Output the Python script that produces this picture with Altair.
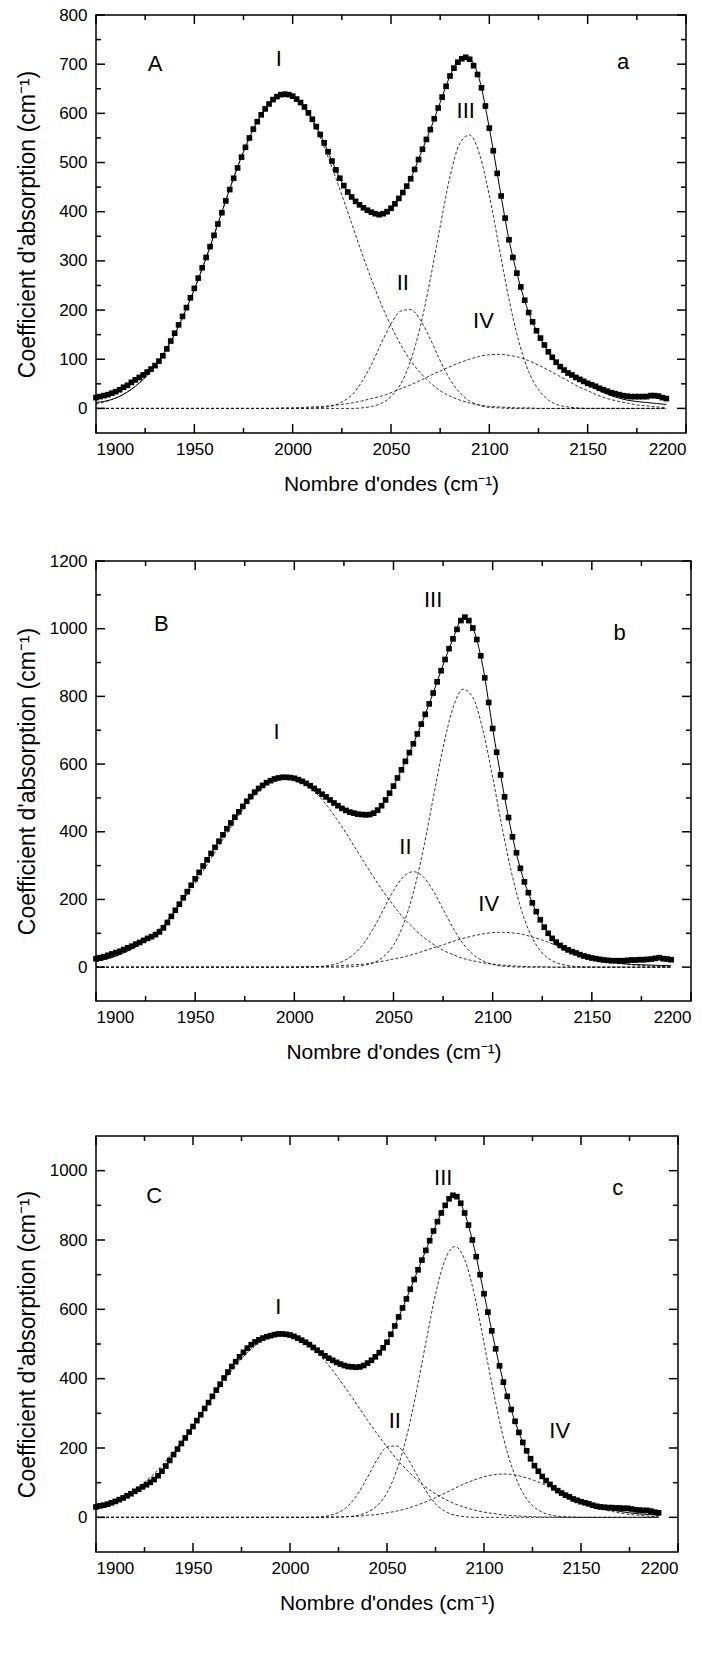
import altair as alt
import pandas as pd

FONT = "Liberation Sans"

# ---- x grids (cm-1) ----
POINT_WN = list(range(1900, 2191, 2))   # measured points, every 2 cm-1
CURVE_WN = list(range(1900, 2191, 5))   # fitted curves, every 5 cm-1

X_LABELS = [1900, 1950, 2000, 2050, 2100, 2150, 2200]
X_MINOR = [1925, 1975, 2025, 2075, 2125, 2175]

X_TITLE = "Nombre d'ondes (cm\u207b\u00b9)"
Y_TITLE = "Coefficient d'absorption (cm\u207b\u00b9)"

# ================= Panel A =================
A_POINTS = [
    22, 24, 26, 28, 31, 34, 38, 43, 47, 53,
    58, 63, 68, 74, 80, 87, 96, 107, 121, 137,
    153, 170, 187, 205, 225, 244, 265, 286, 307, 329,
    352, 375, 398, 422, 445, 468, 489, 511, 531, 550,
    568, 583, 597, 609, 619, 628, 634, 638, 639, 638,
    635, 629, 622, 613, 601, 588, 573, 557, 540, 522,
    503, 485, 468, 453, 440, 430, 421, 414, 408, 403,
    399, 396, 394, 396, 400, 407, 416, 427, 439, 452,
    467, 486, 506, 527, 547, 567, 589, 611, 633, 655,
    676, 692, 704, 711, 714, 710, 697, 679, 652, 615,
    570, 524, 478, 432, 387, 343, 307, 275, 247, 220,
    195, 176, 158, 143, 129, 115, 104, 94, 85, 78,
    72, 68, 63, 59, 55, 51, 48, 45, 41, 38,
    35, 32, 30, 28, 26, 25, 24, 24, 24, 24,
    24, 26, 26, 25, 22, 20,
]
A_FIT = [
    12, 15, 21, 31, 45, 63, 86, 116, 151, 194,
    242, 295, 352, 411, 469, 522, 568, 604, 628, 639,
    635, 618, 588, 549, 503, 460, 430, 411, 399, 395,
    407, 433, 467, 517, 567, 622, 676, 709, 710, 668,
    570, 455, 343, 260, 195, 150, 115, 88, 72, 60,
    49, 38, 29, 22, 17, 14, 12, 10, 8,
]
A_I = [
    9, 14, 21, 31, 45, 63, 86, 116, 151, 194,
    242, 295, 352, 411, 469, 522, 568, 604, 628, 639,
    634, 616, 584, 541, 490, 434, 376, 318, 263, 212,
    168, 129, 97, 72, 52, 36, 25, 17, 11, 7,
    4, 3, 2, 1, 1, 0, 0, 0, 0, 0,
    0, 0, 0, 0, 0, 0, 0, 0, 0,
]
A_II = [
    0, 0, 0, 0, 0, 0, 0, 0, 0, 0,
    0, 0, 0, 0, 0, 0, 0, 0, 0, 0,
    0, 0, 1, 2, 5, 13, 27, 53, 89, 132,
    172, 198, 201, 179, 141, 97, 59, 32, 15, 6,
    2, 1, 0, 0, 0, 0, 0, 0, 0, 0,
    0, 0, 0, 0, 0, 0, 0, 0, 0,
]
A_III = [
    0, 0, 0, 0, 0, 0, 0, 0, 0, 0,
    0, 0, 0, 0, 0, 0, 0, 0, 0, 0,
    0, 0, 0, 0, 0, 0, 0, 1, 4, 10,
    24, 50, 97, 168, 263, 370, 471, 539, 556, 517,
    433, 327, 222, 136, 75, 38, 17, 7, 3, 1,
    0, 0, 0, 0, 0, 0, 0, 0, 0,
]
A_IV = [
    0, 0, 0, 0, 0, 0, 0, 0, 0, 0,
    0, 0, 0, 0, 0, 0, 0, 0, 0, 1,
    1, 2, 3, 4, 6, 8, 11, 15, 20, 25,
    32, 40, 48, 57, 67, 76, 85, 93, 100, 106,
    109, 110, 108, 104, 97, 88, 78, 67, 56, 45,
    36, 27, 20, 15, 11, 7, 5, 3, 2,
]
A_LABEL_TEXT = ["A", "I", "II", "III", "IV", "a"]
A_LABEL_WN = [1930, 1993, 2056, 2088, 2097, 2168]
A_LABEL_VAL = [700, 710, 256, 605, 178, 704]
A_Y_LABELS = [0, 100, 200, 300, 400, 500, 600, 700, 800]
A_Y_MINOR = [50, 150, 250, 350, 450, 550, 650, 750]

# ================= Panel B =================
B_POINTS = [
    25, 28, 31, 35, 39, 43, 47, 52, 57, 62,
    68, 73, 79, 85, 90, 96, 104, 116, 132, 150,
    168, 186, 205, 223, 242, 261, 280, 299, 317, 336,
    354, 372, 391, 409, 426, 443, 459, 475, 490, 504,
    517, 528, 537, 545, 551, 556, 559, 561, 561, 560,
    558, 554, 549, 543, 536, 528, 520, 511, 503, 494,
    485, 477, 469, 463, 458, 455, 452, 451, 450, 451,
    455, 464, 477, 494, 514, 535, 559, 583, 608, 634,
    660, 689, 718, 747, 778, 810, 843, 876, 909, 941,
    970, 998, 1024, 1034, 1024, 1002, 968, 920, 855, 782,
    705, 635, 568, 503, 442, 385, 338, 292, 252, 220,
    190, 164, 140, 118, 100, 85, 74, 64, 57, 51,
    46, 42, 37, 33, 30, 27, 25, 23, 21, 20,
    19, 19, 19, 19, 20, 21, 21, 22, 22, 23,
    24, 26, 28, 25, 24, 22,
]
B_FIT = [
    17, 24, 33, 45, 60, 80, 100, 128, 168, 214,
    261, 308, 354, 400, 443, 483, 517, 541, 556, 561,
    558, 546, 528, 507, 485, 466, 455, 450, 455, 485,
    535, 595, 660, 732, 810, 893, 970, 1032, 1002, 890,
    705, 535, 385, 270, 190, 128, 85, 63, 49, 37,
    27, 20, 15, 11, 8, 7, 6, 5, 4,
]
B_I = [
    16, 23, 32, 45, 60, 80, 104, 133, 167, 206,
    248, 293, 340, 387, 432, 473, 508, 535, 553, 561,
    558, 544, 520, 488, 449, 406, 359, 312, 266, 222,
    182, 146, 116, 89, 68, 50, 37, 26, 19, 13,
    9, 6, 4, 2, 1, 1, 0, 0, 0, 0,
    0, 0, 0, 0, 0, 0, 0, 0, 0,
]
B_II = [
    0, 0, 0, 0, 0, 0, 0, 0, 0, 0,
    0, 0, 0, 0, 0, 0, 0, 0, 0, 0,
    0, 0, 1, 3, 8, 19, 38, 70, 116, 171,
    226, 267, 282, 267, 226, 171, 116, 70, 38, 19,
    8, 3, 1, 0, 0, 0, 0, 0, 0, 0,
    0, 0, 0, 0, 0, 0, 0, 0, 0,
]
B_III = [
    0, 0, 0, 0, 0, 0, 0, 0, 0, 0,
    0, 0, 0, 0, 0, 0, 0, 0, 0, 0,
    0, 0, 0, 0, 0, 0, 2, 5, 13, 31,
    65, 126, 220, 347, 499, 649, 766, 821, 797, 702,
    561, 406, 267, 159, 86, 42, 19, 8, 3, 1,
    0, 0, 0, 0, 0, 0, 0, 0, 0,
]
B_IV = [
    0, 0, 0, 0, 0, 0, 0, 0, 0, 0,
    0, 0, 0, 0, 0, 0, 0, 0, 0, 0,
    0, 1, 1, 2, 3, 5, 7, 9, 13, 18,
    24, 30, 38, 47, 57, 66, 76, 85, 92, 98,
    102, 103, 101, 97, 89, 80, 69, 58, 47, 37,
    28, 21, 15, 10, 7, 5, 3, 2, 1,
]
B_LABEL_TEXT = ["B", "I", "II", "III", "IV", "b"]
B_LABEL_WN = [1933, 1991, 2056, 2070, 2098, 2164]
B_LABEL_VAL = [1015, 696, 354, 1084, 186, 987]
B_Y_LABELS = [0, 200, 400, 600, 800, 1000, 1200]
B_Y_MINOR = [100, 300, 500, 700, 900, 1100]

# ================= Panel C =================
C_POINTS = [
    30, 33, 35, 38, 42, 46, 51, 56, 62, 68,
    75, 81, 88, 94, 101, 109, 120, 133, 148, 164,
    181, 197, 213, 229, 246, 262, 279, 296, 314, 331,
    349, 367, 384, 402, 419, 435, 449, 463, 476, 488,
    498, 506, 512, 517, 521, 524, 527, 529, 529, 528,
    526, 522, 517, 511, 505, 498, 490, 482, 474, 466,
    459, 453, 447, 442, 438, 435, 434, 433, 434, 438,
    445, 453, 463, 475, 489, 505, 528, 552, 578, 604,
    630, 658, 686, 714, 742, 770, 798, 826, 853, 878,
    900, 919, 929, 925, 906, 878, 843, 800, 752, 700,
    645, 592, 538, 486, 437, 390, 349, 311, 277, 245,
    216, 192, 169, 149, 133, 118, 106, 95, 85, 77,
    70, 64, 59, 53, 49, 45, 42, 39, 35, 32,
    30, 29, 28, 28, 27, 27, 26, 26, 24, 22,
    21, 20, 20, 18, 15, 13,
]
C_FIT = [
    26, 34, 45, 59, 76, 94, 114, 143, 181, 221,
    262, 305, 349, 393, 435, 470, 498, 515, 524, 529,
    526, 514, 498, 478, 459, 444, 435, 433, 445, 468,
    505, 565, 630, 700, 770, 840, 900, 928, 878, 776,
    645, 512, 390, 293, 216, 158, 118, 89, 70, 56,
    46, 36, 28, 22, 17, 13, 10, 8, 6,
]
C_I = [
    26, 35, 47, 61, 79, 101, 126, 156, 189, 225,
    264, 304, 345, 386, 424, 458, 486, 508, 523, 529,
    526, 515, 496, 470, 438, 401, 362, 321, 280, 240,
    203, 168, 138, 111, 87, 68, 52, 39, 29, 21,
    15, 11, 7, 5, 3, 2, 1, 1, 0, 0,
    0, 0, 0, 0, 0, 0, 0, 0, 0,
]
C_II = [
    0, 0, 0, 0, 0, 0, 0, 0, 0, 0,
    0, 0, 0, 0, 0, 0, 0, 0, 0, 0,
    0, 0, 0, 1, 5, 14, 33, 68, 116, 167,
    203, 206, 176, 127, 77, 39, 17, 6, 2, 0,
    0, 0, 0, 0, 0, 0, 0, 0, 0, 0,
    0, 0, 0, 0, 0, 0, 0, 0, 0,
]
C_III = [
    0, 0, 0, 0, 0, 0, 0, 0, 0, 0,
    0, 0, 0, 0, 0, 0, 0, 0, 0, 0,
    0, 0, 0, 0, 0, 1, 2, 6, 15, 34,
    71, 135, 230, 358, 503, 643, 744, 781, 744, 643,
    503, 358, 230, 135, 71, 34, 15, 6, 2, 1,
    0, 0, 0, 0, 0, 0, 0, 0, 0,
]
C_IV = [
    0, 0, 0, 0, 0, 0, 0, 0, 0, 0,
    0, 0, 0, 0, 0, 0, 0, 0, 0, 0,
    0, 0, 0, 0, 1, 1, 2, 3, 6, 8,
    13, 18, 25, 34, 45, 57, 70, 84, 97, 108,
    117, 123, 125, 123, 117, 108, 97, 84, 70, 57,
    45, 34, 25, 18, 13, 8, 6, 3, 2,
]
C_LABEL_TEXT = ["C", "I", "II", "III", "IV", "c"]
C_LABEL_WN = [1930, 1994, 2054, 2079, 2139, 2169]
C_LABEL_VAL = [927, 606, 277, 978, 248, 949]
C_Y_LABELS = [0, 200, 400, 600, 800, 1000]
C_Y_MINOR = [100, 300, 500, 700, 900]

for arr in (A_POINTS, B_POINTS, C_POINTS):
    assert len(arr) == len(POINT_WN), len(arr)
for arr in (A_FIT, A_I, A_II, A_III, A_IV, B_FIT, B_I, B_II, B_III, B_IV,
            C_FIT, C_I, C_II, C_III, C_IV):
    assert len(arr) == len(CURVE_WN), len(arr)

PLOT_LEFT = 94
TITLE_CENTER_X = 25
MAJOR_LEN = 9
MINOR_LEN = 5


def panel(points, fit, comps, lab_text, lab_wn, lab_val, ydom, ymajor, yminor,
          width, height, extra_top=0):
    pts = pd.DataFrame({"wn": POINT_WN, "val": points})
    fit_df = pd.DataFrame({"wn": CURVE_WN, "val": fit})
    comp_df = pd.concat(
        [pd.DataFrame({"wn": CURVE_WN, "val": c, "band": name}) for name, c in comps],
        ignore_index=True,
    )
    lab_df = pd.DataFrame({"wn": lab_wn, "val": lab_val, "label": lab_text})

    xs = alt.Scale(domain=[1900, 2200], nice=False, zero=False)
    ys = alt.Scale(domain=ydom, nice=False, zero=False)
    x_axis = alt.Axis(values=X_LABELS, format="d", title=X_TITLE,
                      labelPadding=8, titlePadding=16, ticks=False, tickSize=0,
                      domain=False, grid=False, titleFontSize=21)
    y_axis = alt.Axis(values=ymajor, format="d", title=Y_TITLE,
                      labelPadding=9, ticks=False, tickSize=0, domain=False, grid=False,
                      titleX=TITLE_CENTER_X - PLOT_LEFT, titleBaseline="middle",
                      titleAlign="center", titleFontSize=23)
    X = alt.X("wn:Q", scale=xs, axis=x_axis)
    Y = alt.Y("val:Q", scale=ys, axis=y_axis)

    comp_layer = alt.Chart(comp_df).mark_line(
        color="black", strokeWidth=0.8, strokeDash=[3, 2], interpolate="monotone"
    ).encode(x=X, y=Y, detail="band:N")
    fit_layer = alt.Chart(fit_df).mark_line(
        color="black", strokeWidth=1.0, interpolate="monotone"
    ).encode(x=X, y=Y)
    pts_layer = alt.Chart(pts).mark_square(
        color="black", size=32, opacity=1
    ).encode(x=X, y=Y)
    text_layer = alt.Chart(lab_df).mark_text(
        font=FONT, fontSize=22, color="black", align="center", baseline="middle"
    ).encode(x=X, y=Y, text="label:N")

    xmaj = pd.DataFrame({"wn": X_LABELS})
    xmin = pd.DataFrame({"wn": X_MINOR})
    ymaj = pd.DataFrame({"val": ymajor})
    ymin_df = pd.DataFrame({"val": yminor})

    tick_layers = []
    for df, L in ((xmaj, MAJOR_LEN), (xmin, MINOR_LEN)):
        tick_layers.append(alt.Chart(df).mark_rule(color="black", strokeWidth=1.5).encode(
            x=X, y=alt.value(height), y2=alt.value(height - L)))
        tick_layers.append(alt.Chart(df).mark_rule(color="black", strokeWidth=1.5).encode(
            x=X, y=alt.value(0), y2=alt.value(L)))
    for df, L in ((ymaj, MAJOR_LEN), (ymin_df, MINOR_LEN)):
        tick_layers.append(alt.Chart(df).mark_rule(color="black", strokeWidth=1.5).encode(
            y=Y, x=alt.value(0), x2=alt.value(L)))
        tick_layers.append(alt.Chart(df).mark_rule(color="black", strokeWidth=1.5).encode(
            y=Y, x=alt.value(width), x2=alt.value(width - L)))

    layers = [comp_layer, fit_layer, pts_layer, text_layer] + tick_layers
    if extra_top:
        spacer = alt.Chart(pd.DataFrame({"k": [0]})).mark_rule(
            strokeOpacity=0, color="white"
        ).encode(x=alt.value(0), y=alt.value(-extra_top), y2=alt.value(0))
        layers.append(spacer)
    return alt.layer(*layers).properties(width=width, height=height)


pA = panel(A_POINTS, A_FIT, [("I", A_I), ("II", A_II), ("III", A_III), ("IV", A_IV)],
           A_LABEL_TEXT, A_LABEL_WN, A_LABEL_VAL, [-50, 800], A_Y_LABELS, A_Y_MINOR,
           590, 418)
pB = panel(B_POINTS, B_FIT, [("I", B_I), ("II", B_II), ("III", B_III), ("IV", B_IV)],
           B_LABEL_TEXT, B_LABEL_WN, B_LABEL_VAL, [-100, 1200], B_Y_LABELS, B_Y_MINOR,
           595, 440)
pC = panel(C_POINTS, C_FIT, [("I", C_I), ("II", C_II), ("III", C_III), ("IV", C_IV)],
           C_LABEL_TEXT, C_LABEL_WN, C_LABEL_VAL, [-100, 1100], C_Y_LABELS, C_Y_MINOR,
           582, 416, extra_top=16)

chart = alt.vconcat(pA, pB, pC, spacing=56).properties(
    padding={"left": 15, "top": 5, "right": 0, "bottom": 0}
).configure_view(
    stroke="black", strokeWidth=1.5
).configure_axis(
    labelFont=FONT, titleFont=FONT, labelColor="black", titleColor="black",
    labelFontSize=17, titleFontSize=21, titleFontWeight="normal"
).configure_text(font=FONT)

chart.save("out.html", embed_options={"renderer": "svg", "actions": False})
